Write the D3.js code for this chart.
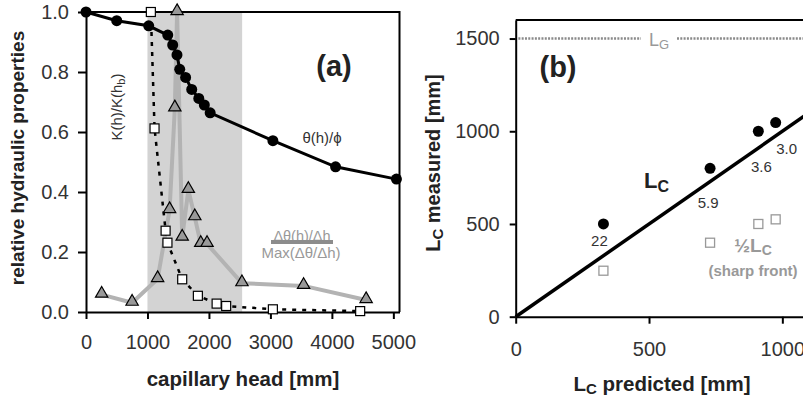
<!DOCTYPE html>
<html>
<head>
<meta charset="utf-8">
<script src="https://cdn.jsdelivr.net/npm/d3@7"></script>
<style>
  body { margin: 0; background: #fff; }
  svg { font-family: "Liberation Sans", Arial, sans-serif; }
  .tick text { font-size: 20px; fill: #333; }
  .tick line, .domain { stroke: #000; stroke-width: 2; }
</style>
</head>
<body>
<svg id="chart" width="803" height="400"></svg>
<script>
// ---- panel (a) data ----
const thetaHead = [0, 500, 1020, 1330, 1410, 1480, 1525, 1620, 1720, 1835, 1925, 2020, 3040, 4060, 5050];
const thetaVal = [1.0, 0.971, 0.954, 0.923, 0.89, 0.857, 0.809, 0.782, 0.742, 0.712, 0.69, 0.664, 0.571, 0.484, 0.443];

const kHead = [1055, 1115, 1295, 1325, 1565, 1820, 2125, 2280, 3040, 4460];
const kVal = [1.0, 0.612, 0.271, 0.231, 0.109, 0.054, 0.028, 0.020, 0.009, 0.003];

const dHead = [255, 750, 1165, 1360, 1445, 1482, 1565, 1665, 1770, 1867, 1969, 2537, 3540, 4557];
const dVal = [0.058, 0.031, 0.11, 0.34, 0.679, 1.0, 0.248, 0.407, 0.316, 0.227, 0.227, 0.096, 0.087, 0.04];

const shadeRange = [1000, 2540];
const aXTicks = [0, 1000, 2000, 3000, 4000, 5000];
const aYTicks = [0, 0.2, 0.4, 0.6, 0.8, 1.0];

// ---- panel (b) data ----
const lcPredicted = [329, 729, 910, 975];
const lcMeasured = [500, 800, 1000, 1047];
const lcHalf = [248, 399, 500, 525];
const lcLabels = ["22", "5.9", "3.6", "3.0"];
const lgValue = 1500;
const bXTicks = [0, 500, 1000];
const bYTicks = [0, 500, 1000, 1500];

const svg = d3.select("#chart");

// ================= panel (a) =================
const ax = d3.scaleLinear().domain([0, 5100]).range([86, 399.5]);
const ay = d3.scaleLinear().domain([0, 1]).range([312, 12]);

const pa = svg.append("g");

pa.append("rect")
    .attr("x", ax(shadeRange[0]))
    .attr("y", ay(1))
    .attr("width", ax(shadeRange[1]) - ax(shadeRange[0]))
    .attr("height", ay(0) - ay(1))
    .attr("fill", "#d3d3d3");

// frame (top + right)
pa.append("path")
    .attr("d", `M${ax(0)},${ay(1)}H${ax(5100)}V${ay(0)}`)
    .attr("fill", "none").attr("stroke", "#000").attr("stroke-width", 2);

pa.append("g")
    .attr("transform", `translate(0,${ay(0)})`)
    .call(d3.axisBottom(ax).tickValues(aXTicks).tickSize(7).tickPadding(16).tickSizeOuter(0).tickFormat(d3.format("d")));

pa.append("g")
    .attr("transform", `translate(${ax(0)},0)`)
    .call(d3.axisLeft(ay).tickValues(aYTicks).tickSize(8).tickPadding(9).tickSizeOuter(0).tickFormat(d3.format(".1f")));

// Δθ/Δh line + triangles
const dData = dHead.map((h, i) => ({ h: h, v: dVal[i] }));
pa.append("path")
    .datum(dData)
    .attr("fill", "none")
    .attr("stroke", "#b3b3b3")
    .attr("stroke-width", 4)
    .attr("stroke-linejoin", "round")
    .attr("d", d3.line().x(d => ax(d.h)).y(d => ay(d.v)));

// K(h)/K(hb) dotted line
const kData = kHead.map((h, i) => ({ h: h, v: kVal[i] }));
pa.append("path")
    .datum(kData)
    .attr("fill", "none")
    .attr("stroke", "#000")
    .attr("stroke-width", 2.5)
    .attr("stroke-dasharray", "4,6")
    .attr("d", d3.line().x(d => ax(d.h)).y(d => ay(d.v)));

// θ(h)/φ line
const tData = thetaHead.map((h, i) => ({ h: h, v: thetaVal[i] }));
pa.append("path")
    .datum(tData)
    .attr("fill", "none")
    .attr("stroke", "#000")
    .attr("stroke-width", 3)
    .attr("d", d3.line().x(d => ax(d.h)).y(d => ay(d.v)));

pa.selectAll("path.tri")
    .data(dData)
    .join("path")
    .attr("class", "tri")
    .attr("transform", d => `translate(${ax(d.h)},${ay(d.v) - 1})`)
    .attr("d", d3.symbol(d3.symbolTriangle, 66))
    .attr("fill", "#999")
    .attr("stroke", "#000")
    .attr("stroke-width", 1.2);

pa.selectAll("rect.sq")
    .data(kData)
    .join("rect")
    .attr("class", "sq")
    .attr("x", d => ax(d.h) - 4.5)
    .attr("y", d => ay(d.v) - 4.5)
    .attr("width", 9).attr("height", 9)
    .attr("fill", "#fff")
    .attr("stroke", "#000")
    .attr("stroke-width", 1.2);

pa.selectAll("circle")
    .data(tData)
    .join("circle")
    .attr("cx", d => ax(d.h))
    .attr("cy", d => ay(d.v))
    .attr("r", 5.5)
    .attr("fill", "#000");

// labels (a)
pa.append("text")
    .attr("x", 334).attr("y", 76)
    .attr("text-anchor", "middle")
    .attr("font-weight", "bold").attr("font-size", 29).attr("fill", "#222")
    .text("(a)");

pa.append("text")
    .attr("x", 322).attr("y", 143)
    .attr("text-anchor", "middle")
    .attr("font-size", 15).attr("fill", "#333")
    .text("θ(h)/ϕ");

const kLab = pa.append("text")
    .attr("transform", "translate(122,107) rotate(-90)")
    .attr("text-anchor", "middle")
    .attr("font-size", 15).attr("fill", "#333");
kLab.append("tspan").text("K(h)/K(h");
kLab.append("tspan").attr("font-size", 11).attr("dy", 3).text("b");
kLab.append("tspan").attr("dy", -3).text(")");

pa.append("text")
    .attr("x", 302).attr("y", 241)
    .attr("text-anchor", "middle")
    .attr("font-size", 14.5).attr("fill", "#999")
    .text("Δθ(h)/Δh");
pa.append("rect")
    .attr("x", 271).attr("y", 240)
    .attr("width", 62).attr("height", 4)
    .attr("fill", "#8c8c8c");
pa.append("text")
    .attr("x", 301).attr("y", 258)
    .attr("text-anchor", "middle")
    .attr("font-size", 15).attr("fill", "#999")
    .text("Max(Δθ/Δh)");

pa.append("text")
    .attr("x", 243).attr("y", 386)
    .attr("text-anchor", "middle")
    .attr("font-weight", "bold").attr("font-size", 20.5).attr("fill", "#222")
    .text("capillary head [mm]");

pa.append("text")
    .attr("transform", "translate(24,158) rotate(-90)")
    .attr("text-anchor", "middle")
    .attr("font-weight", "bold").attr("font-size", 19).attr("fill", "#222")
    .text("relative hydraulic properties");

// ================= panel (b) =================
const bx = d3.scaleLinear().domain([0, 1100]).range([515.7, 809]);
const by = d3.scaleLinear().domain([0, 1600]).range([316.7, 20]);

const pb = svg.append("g");

pb.append("line")
    .attr("x1", bx(0)).attr("x2", bx(1100))
    .attr("y1", by(1600)).attr("y2", by(1600))
    .attr("stroke", "#000").attr("stroke-width", 2);

pb.append("g")
    .attr("transform", `translate(0,${by(0)})`)
    .call(d3.axisBottom(bx).tickValues(bXTicks).tickSize(7).tickPadding(18).tickSizeOuter(0).tickFormat(d3.format("d")));

pb.append("g")
    .attr("transform", `translate(${bx(0)},0)`)
    .call(d3.axisLeft(by).tickValues(bYTicks).tickSize(6).tickPadding(10).tickSizeOuter(0).tickFormat(d3.format("d")));

// L_G dotted line with gap for its label
const lgY = by(lgValue);
pb.append("line")
    .attr("x1", bx(10)).attr("x2", 641).attr("y1", lgY).attr("y2", lgY)
    .attr("stroke", "#8a8a8a").attr("stroke-width", 2.5).attr("stroke-dasharray", "2,1.3");
pb.append("line")
    .attr("x1", 677).attr("x2", bx(1100)).attr("y1", lgY).attr("y2", lgY)
    .attr("stroke", "#8a8a8a").attr("stroke-width", 2.5).attr("stroke-dasharray", "2,1.3");
const lg = pb.append("text")
    .attr("x", 649).attr("y", lgY + 7)
    .attr("font-size", 18).attr("fill", "#999");
lg.append("tspan").text("L");
lg.append("tspan").attr("font-size", 13).attr("dy", 3).text("G");

// 1:1 line
pb.append("line")
    .attr("x1", bx(0)).attr("y1", by(0))
    .attr("x2", bx(1100)).attr("y2", by(1100))
    .attr("stroke", "#000").attr("stroke-width", 3.5);

const bData = lcPredicted.map((p, i) => ({ p: p, m: lcMeasured[i], half: lcHalf[i], lab: lcLabels[i] }));

pb.selectAll("rect.sq")
    .data(bData)
    .join("rect")
    .attr("class", "sq")
    .attr("x", d => bx(d.p) - 4.5)
    .attr("y", d => by(d.half) - 4.5)
    .attr("width", 9).attr("height", 9)
    .attr("fill", "#fff")
    .attr("stroke", "#999")
    .attr("stroke-width", 1.3);

pb.selectAll("circle")
    .data(bData)
    .join("circle")
    .attr("cx", d => bx(d.p))
    .attr("cy", d => by(d.m))
    .attr("r", 5.5)
    .attr("fill", "#000");

// number labels next to each point
const labOff = [[-4, 22], [-2, 40], [3, 41], [11, 31]];
pb.selectAll("text.num")
    .data(bData)
    .join("text")
    .attr("class", "num")
    .attr("x", (d, i) => bx(d.p) + labOff[i][0])
    .attr("y", (d, i) => by(d.m) + labOff[i][1])
    .attr("text-anchor", "middle")
    .attr("font-size", 15).attr("fill", "#333")
    .text(d => d.lab);

pb.append("text")
    .attr("x", 558).attr("y", 77)
    .attr("text-anchor", "middle")
    .attr("font-weight", "bold").attr("font-size", 29).attr("fill", "#222")
    .text("(b)");

const lc = pb.append("text")
    .attr("x", 644).attr("y", 188)
    .attr("font-weight", "bold").attr("font-size", 22).attr("fill", "#222");
lc.append("tspan").text("L");
lc.append("tspan").attr("font-size", 16).attr("dy", 4).text("C");

const half = pb.append("text")
    .attr("x", 753).attr("y", 252)
    .attr("text-anchor", "middle")
    .attr("font-weight", "bold").attr("font-size", 19).attr("fill", "#999");
half.append("tspan").text("½L");
half.append("tspan").attr("font-size", 14).attr("dy", 3).text("C");

pb.append("text")
    .attr("x", 753).attr("y", 276)
    .attr("text-anchor", "middle")
    .attr("font-weight", "bold").attr("font-size", 15).attr("fill", "#999")
    .text("(sharp front)");

const bxl = pb.append("text")
    .attr("x", 662).attr("y", 391)
    .attr("text-anchor", "middle")
    .attr("font-weight", "bold").attr("font-size", 20.5).attr("fill", "#222");
bxl.append("tspan").text("L");
bxl.append("tspan").attr("font-size", 15).attr("dy", 3).text("C");
bxl.append("tspan").attr("dy", -3).text(" predicted [mm]");

const byl = pb.append("text")
    .attr("transform", "translate(440,163) rotate(-90)")
    .attr("text-anchor", "middle")
    .attr("font-weight", "bold").attr("font-size", 20).attr("fill", "#222");
byl.append("tspan").text("L");
byl.append("tspan").attr("font-size", 15).attr("dy", 3).text("C");
byl.append("tspan").attr("dy", -3).text(" measured [mm]");
</script>
</body>
</html>
